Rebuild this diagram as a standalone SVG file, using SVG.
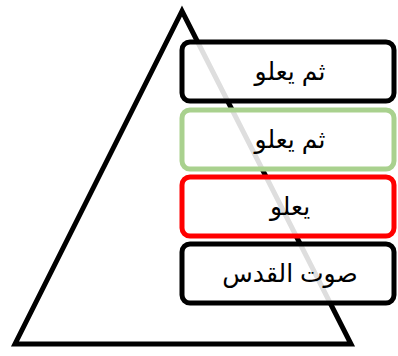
<svg xmlns="http://www.w3.org/2000/svg" width="398" height="356" viewBox="0 0 398 356">
<style>
.box{fill:#fff;fill-opacity:0.87;stroke-width:5}
.t{font-family:"Liberation Sans","DejaVu Sans",sans-serif;font-size:25px;text-anchor:middle;fill:#000}
</style>
<rect width="398" height="356" fill="#fff"/>
<g id="connectors"></g>
<g id="triangle">
<polygon points="182,11 15,344 351,344" fill="none" stroke="#000" stroke-width="5" stroke-linejoin="miter"/>
</g>
<g id="box1">
<rect class="box" x="182" y="42" width="212" height="59" rx="8" stroke="#000"/>
<text class="t" x="290" y="80" direction="rtl">ثم يعلو</text>
</g>
<g id="box2">
<rect class="box" x="182" y="110" width="212" height="59" rx="8" stroke="#a9d18e"/>
<text class="t" x="290" y="148" direction="rtl">ثم يعلو</text>
</g>
<g id="box3">
<rect class="box" x="182" y="177" width="212" height="59" rx="8" stroke="#ff0000"/>
<text class="t" x="290" y="215" direction="rtl">يعلو</text>
</g>
<g id="box4">
<rect class="box" x="182" y="244" width="212" height="59" rx="8" stroke="#000"/>
<text class="t" x="290" y="282" direction="rtl">صوت القدس</text>
</g>
</svg>
